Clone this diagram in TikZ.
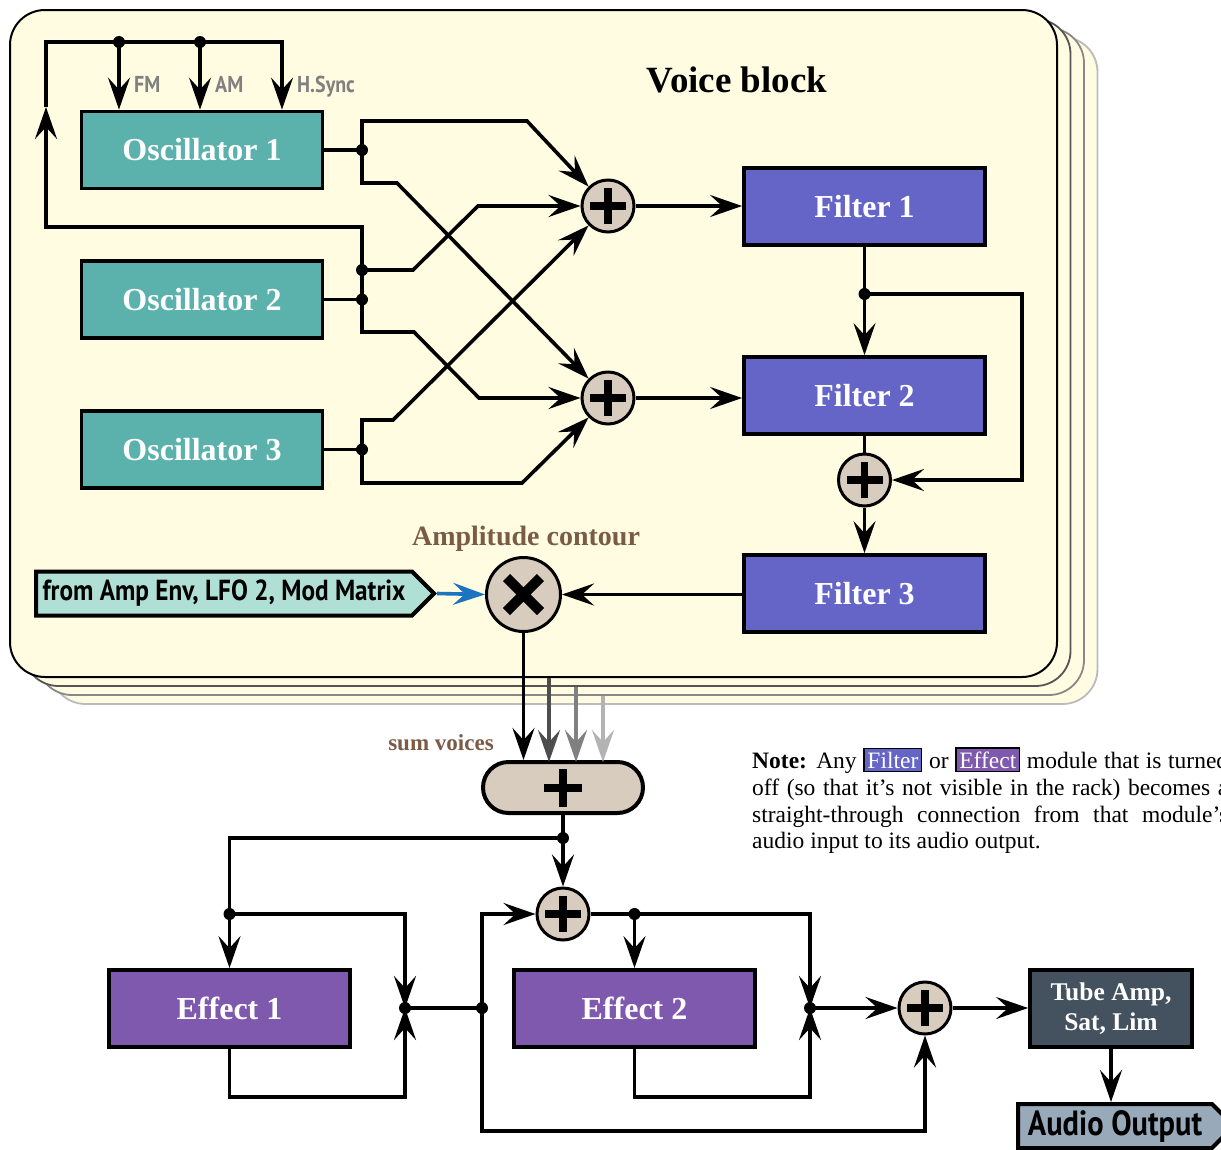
\documentclass[tikz,border=0pt]{standalone}
\usepackage{fontspec}
\setmainfont{Liberation Serif}
\newfontfamily\condsans[FakeStretch=0.87]{PT Sans}
\usetikzlibrary{arrows.meta,shapes.symbols,shapes.misc}

\definecolor{cream}{HTML}{FFFCE2}
\definecolor{panelA}{HTML}{555555}
\definecolor{panelB}{HTML}{888888}
\definecolor{panelC}{HTML}{BBBBBB}
\definecolor{oscteal}{HTML}{5BB1AB}
\definecolor{filterblue}{HTML}{6565C7}
\definecolor{effectpurple}{HTML}{7E59AD}
\definecolor{tubeslate}{HTML}{44525F}
\definecolor{outblue}{HTML}{98AABA}
\definecolor{envmint}{HTML}{B0E0D5}
\definecolor{mixbeige}{HTML}{D8CCBE}
\definecolor{labelbrown}{HTML}{7A5B45}
\definecolor{modblue}{HTML}{1A74BF}
\definecolor{voiceA}{HTML}{4D4D4D}
\definecolor{voiceB}{HTML}{808080}
\definecolor{voiceC}{HTML}{B3B3B3}

\newcommand{\filtertag}{{\setlength{\fboxrule}{1.6pt}\setlength{\fboxsep}{2.5pt}\fcolorbox{black}{filterblue}{\textcolor{white}{Filter}}}}
\newcommand{\effecttag}{{\setlength{\fboxrule}{1.6pt}\setlength{\fboxsep}{2.5pt}\fcolorbox{black}{effectpurple}{\textcolor{white}{Effect}}}}

\begin{document}
\begin{tikzpicture}[x=1pt,y=-1pt,
  wire/.style={line width=3.6pt, line join=miter},
  arr/.style={wire, -{Stealth[length=32pt,width=22pt,inset=12pt]}},
  module/.style={draw, line width=3.8pt, minimum width=241pt, minimum height=77pt,
    inner sep=0pt, text=white, font=\fontsize{32}{36}\selectfont\bfseries},
  oscbox/.style={module, fill=oscteal},
  filterbox/.style={module, fill=filterblue},
  effectbox/.style={module, fill=effectpurple},
  mixer/.style={circle, draw, line width=3pt, fill=mixbeige, minimum size=52pt, inner sep=0pt,
    path picture={\draw[line width=7.5pt]
      ([xshift=-18pt]path picture bounding box.center) -- ([xshift=18pt]path picture bounding box.center)
      ([yshift=-18pt]path picture bounding box.center) -- ([yshift=18pt]path picture bounding box.center);}},
  dot/.style={circle, fill=black, minimum size=12pt, inner sep=0pt},
  sans/.style={font=\condsans\bfseries\fontsize{23}{26}\selectfont},
  brownlabel/.style={text=labelbrown, font=\bfseries\fontsize{28}{30}\selectfont},
  notefont/.style={inner sep=0pt, anchor=base west, font=\fontsize{23.5}{27}\selectfont}
]
\useasboundingbox (0,0) rectangle (1221,1149);
\clip (0,0) rectangle (1221,1149);

% ---- stacked voice panels ----
\foreach \k/\c in {3/panelC,2/panelB,1/panelA}{
  \draw[draw=\c, fill=cream, line width=1.8pt, rounded corners=35pt]
    ({10+13.5*\k},{10+9*\k}) rectangle ({1057+13.5*\k},{677+9*\k});
}
\draw[line width=2pt, fill=cream, rounded corners=35pt] (10,10) rectangle (1057,677);

\node[font=\bfseries\fontsize{37}{40}\selectfont, anchor=base] (title) at (737,92) {Voice block};

% ---- oscillators ----
\node[oscbox] (osc1) at (202,150) {Oscillator 1};
\node[oscbox] (osc2) at (202,299.5) {Oscillator 2};
\node[oscbox] (osc3) at (202,449.5) {Oscillator 3};

% ---- mixers ----
\node[mixer] (s1) at (608,206) {};
\node[mixer] (s2) at (608,398) {};
\node[mixer] (s3) at (864.5,480) {};

% ---- filters ----
\node[filterbox] (f1) at (864.5,206.5) {Filter 1};
\node[filterbox] (f2) at (864.5,395.5) {Filter 2};
\node[filterbox] (f3) at (864.5,593.5) {Filter 3};

% ---- modulation inputs of oscillator 1 ----
\coordinate (jfm) at (119,42);
\coordinate (jam) at (200,42);
\coordinate (jhs) at (282,42);
\coordinate (fbup) at (46,107);
\node[sans, text=voiceB, anchor=base west, inner sep=0pt] (lfm) at (134,92) {FM};
\node[sans, text=voiceB, anchor=base west, inner sep=0pt] (lam) at (215,92) {AM};
\node[sans, text=voiceB, anchor=base west, inner sep=0pt] (lhs) at (297,92) {H.Sync};

% ---- oscillator outputs and routing ----
\coordinate (j1) at (362,150);
\coordinate (j2) at (362,299.5);
\coordinate (j2b) at (362,270);
\coordinate (j3) at (362,449.5);

\draw[wire] (osc1.east) -- (j1);
\draw[wire] (osc2.east) -- (j2);
\draw[wire] (osc3.east) -- (j3);

\draw[arr] (j1) -- (362,121) -- (527,121) -- (s1.north west);
\draw[arr] (j1) -- (362,183) -- (397,183) -- (s2.north west);
\draw[arr] (j2b) -- (413,270) -- (478,206) -- (s1.west);
\draw[arr] (j2) -- (362,332) -- (414,332) -- (479,398) -- (s2.west);
\draw[arr] (j2) -- (362,227) -- (46,227) -- (fbup);
\draw[arr] (fbup) -- (46,42) -- (jhs) -- (jhs |- osc1.north);
\draw[arr] (jfm) -- (jfm |- osc1.north);
\draw[arr] (jam) -- (jam |- osc1.north);
\draw[arr] (j3) -- (362,420) -- (393,420) -- (s1.south west);
\draw[arr] (j3) -- (362,483) -- (522,483) -- (s2.south west);

\foreach \p in {jfm,jam,j1,j2,j2b,j3} \node[dot] at (\p) {};

% ---- filter chain ----
\coordinate (jf) at (864.5,294);
\draw[arr] (s1.east) -- (f1.west |- s1.east);
\draw[arr] (s2.east) -- (f2.west |- s2.east);
\draw[wire] (f1.south) -- (jf);
\draw[arr] (jf) -- (f2.north);
\draw[arr] (jf) -- (1022,294) -- (1022,480) -- (s3.east);
\draw[wire] (f2.south) -- (s3.north);
\draw[arr] (s3.south) -- (f3.north);
\node[dot] at (jf) {};

% ---- amplitude contour ----
\node[circle, draw, line width=3pt, fill=mixbeige, minimum size=74pt, inner sep=0pt,
  path picture={\draw[line width=10pt]
    ([shift={(-17pt,-17pt)}]path picture bounding box.center) -- ([shift={(17pt,17pt)}]path picture bounding box.center)
    ([shift={(-17pt,17pt)}]path picture bounding box.center) -- ([shift={(17pt,-17pt)}]path picture bounding box.center);}]
  (mult) at (523.5,594.5) {};
\node[brownlabel, anchor=base] (lamp) at (526,545) {Amplitude contour};
\node[signal, signal to=east, signal pointer angle=90, draw, line width=4pt, fill=envmint,
  minimum height=44pt, minimum width=398pt, inner sep=2pt, anchor=west,
  font=\condsans\bfseries\fontsize{29}{34}\selectfont] (ampenv) at (34,593.5)
  {from Amp Env, LFO 2, Mod Matrix};
\draw[arr] (f3.west |- mult.east) -- (mult.east);
\draw[arr, draw=modblue, line width=3.6pt] (ampenv.east) -- (mult.west);

% ---- voice summing ----
\node[rounded rectangle, draw, line width=4pt, fill=mixbeige, minimum width=160pt, minimum height=51pt,
  inner sep=0pt,
  path picture={\draw[line width=8pt]
    ([xshift=-19pt]path picture bounding box.center) -- ([xshift=19pt]path picture bounding box.center)
    ([yshift=-19pt]path picture bounding box.center) -- ([yshift=19pt]path picture bounding box.center);}]
  (pill) at (563,787.5) {};
\node[brownlabel, font=\bfseries\fontsize{23}{26}\selectfont, anchor=base] (lsum) at (441,750) {sum voices};
\draw[arr] (mult.south) -- (mult.south |- pill.north);
\draw[arr, draw=voiceA] (549,678) -- (549,762);
\draw[arr, draw=voiceB] (576,687) -- (576,762);
\draw[arr, draw=voiceC] (603,696) -- (603,762);

% ---- effects section ----
\node[mixer] (s4) at (563,914) {};
\node[mixer] (s5) at (925,1008) {};
\node[effectbox] (e1) at (229.5,1008.5) {Effect 1};
\node[effectbox] (e2) at (634.5,1008.5) {Effect 2};
\node[draw, line width=3.8pt, fill=tubeslate, minimum width=162pt, minimum height=77pt, inner sep=0pt,
  text=white, align=center, font=\bfseries\fontsize{25.5}{30}\selectfont] (tube) at (1111,1008.5)
  {Tube Amp,\\Sat, Lim};
\node[signal, signal to=east, signal pointer angle=90, draw, line width=4pt, fill=outblue,
  minimum height=44pt, minimum width=216pt, inner sep=2pt, anchor=west,
  font=\condsans\bfseries\fontsize{35}{40}\selectfont] (aout) at (1016,1126) {Audio Output};

\coordinate (jp) at (563,838);
\coordinate (je1) at (229.5,914);
\coordinate (jo1) at (405,1008);
\coordinate (jb) at (482,1008);
\coordinate (je2) at (634.5,914);
\coordinate (jo2) at (810,1008);

\draw[wire] (pill.south) -- (jp);
\draw[arr] (jp) -- (s4.north);
\draw[arr] (jp) -| (e1.north);
\draw[arr] (je1) -- (405,914) -- (jo1);
\draw[arr] (e1.south) -- (229.5,1097) -- (405,1097) -- (jo1);
\draw[wire] (jo1) -- (jb);
\draw[arr] (jb) -- (482,914) -- (s4.west);
\draw[arr] (jb) -- (482,1131) -- (925,1131) -- (s5.south);
\draw[wire] (s4.east) -- (je2);
\draw[arr] (je2) -- (e2.north);
\draw[arr] (je2) -- (810,914) -- (jo2);
\draw[arr] (e2.south) -- (634.5,1097) -- (810,1097) -- (jo2);
\draw[arr] (jo2) -- (s5.west);
\draw[arr] (s5.east) -- (tube.west |- s5.east);
\draw[arr] (tube.south) -- (tube.south |- aout.north);

\foreach \p in {jp,je1,jo1,jb,je2,jo2} \node[dot] at (\p) {};

% ---- note ----
\node[notefont] (note1) at (752,768)
  {\makebox[476pt][s]{\textbf{Note:} Any \filtertag{} or \effecttag{} module that is turned}};
\node[notefont] (note2) at (752,795)
  {\makebox[476pt][s]{off (so that it’s not visible in the rack) becomes a}};
\node[notefont] (note3) at (752,822)
  {\makebox[476pt][s]{straight-through connection from that module’s}};
\node[notefont] (note4) at (752,848) {audio input to its audio output.};
\end{tikzpicture}
\end{document}
